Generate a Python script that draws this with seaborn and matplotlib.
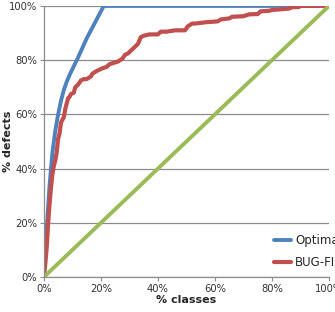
import matplotlib
matplotlib.use('Agg')
import matplotlib.pyplot as plt
import seaborn as sns
from matplotlib.ticker import PercentFormatter

# % classes vs % defects
optimal_x = [0, 1, 2, 3, 4, 5, 6, 7, 8, 9, 12, 15, 18, 21, 100]
optimal_y = [0, 18, 34, 46, 54, 60, 65, 69, 72, 74.5, 81, 88, 94, 100, 100]

bugfix_x = [0, 0.5, 1, 1.5, 2, 2.5, 3, 3.5, 4, 4.5, 5, 5.5, 6, 6.5, 7, 7.5, 8.5, 9, 9.5,
            10.5, 11, 12, 13, 14, 15, 16.5, 17, 18.5, 19.5, 20.5, 22, 23, 24.5, 26, 27.5,
            28.5, 29.5, 31, 32, 33, 34, 35, 37, 40, 41, 43, 46, 49.5, 50.5, 52, 53, 57,
            61, 62, 65, 66, 70, 72, 75, 76, 79, 80, 86, 87, 89.5, 90, 100]
bugfix_y = [0, 5, 11, 20, 27, 33, 38, 41, 43, 46, 51, 53, 57, 58, 59, 62, 66, 66.5, 67.5,
            68, 70, 71, 72.5, 73, 73, 74, 75, 76, 76.5, 77, 77.5, 78.5, 79, 79.5, 80.5,
            82, 82.5, 84, 85, 86, 88.5, 89, 89.5, 89.5, 90.5, 90.5, 91, 91, 92.5, 93.5, 93.5, 94,
            94.3, 95, 95.4, 96, 96.2, 96.9, 97, 98, 98.2, 98.5, 99, 99.5, 99.6, 100, 100]

random_x = [0, 100]
random_y = [0, 100]

sns.set_style('white')
fig = plt.figure(figsize=(3.35, 3.12), dpi=100)
ax = fig.add_axes([0.131, 0.112, 0.851, 0.869])

sns.lineplot(x=optimal_x, y=optimal_y, ax=ax, color='#4F81BD', lw=2.8,
             label='Optimal', sort=False, estimator=None)
sns.lineplot(x=bugfix_x, y=bugfix_y, ax=ax, color='#C0504D', lw=3.0,
             label='BUG-FIX', sort=False, estimator=None)
sns.lineplot(x=random_x, y=random_y, ax=ax, color='#9BBB59', lw=2.8,
             sort=False, estimator=None)

ax.set_xlim(0, 100)
ax.set_ylim(0, 100)
ax.set_xticks([0, 20, 40, 60, 80, 100])
ax.set_yticks([0, 20, 40, 60, 80, 100])
ax.xaxis.set_major_formatter(PercentFormatter(decimals=0))
ax.yaxis.set_major_formatter(PercentFormatter(decimals=0))
ax.yaxis.grid(True, color='#8c8c8c', lw=0.9)
ax.set_axisbelow(True)
for s in ['top', 'right']:
    ax.spines[s].set_visible(False)
for s in ['left', 'bottom']:
    ax.spines[s].set_color('#8c8c8c')
    ax.spines[s].set_linewidth(0.9)
ax.tick_params(axis='x', bottom=True, length=3, color='#8c8c8c', labelsize=7.2,
               labelcolor='#333333', pad=2)
ax.tick_params(axis='y', left=True, length=3, color='#8c8c8c', labelsize=7.2,
               labelcolor='#333333', pad=2)
ax.set_xlabel('% classes', fontsize=8, fontweight='bold', labelpad=1)
ax.set_ylabel('% defects', fontsize=8, fontweight='bold', va='center')
ax.yaxis.set_label_coords(-0.125, 0.5)

ax.legend(loc='upper left', bbox_to_anchor=(0.803, 0.266), bbox_transform=fig.transFigure,
          frameon=False, fontsize=8.5, handlelength=1.5, handletextpad=0.3,
          labelspacing=0.8, borderaxespad=0)

fig.savefig('out.png', dpi=100)
